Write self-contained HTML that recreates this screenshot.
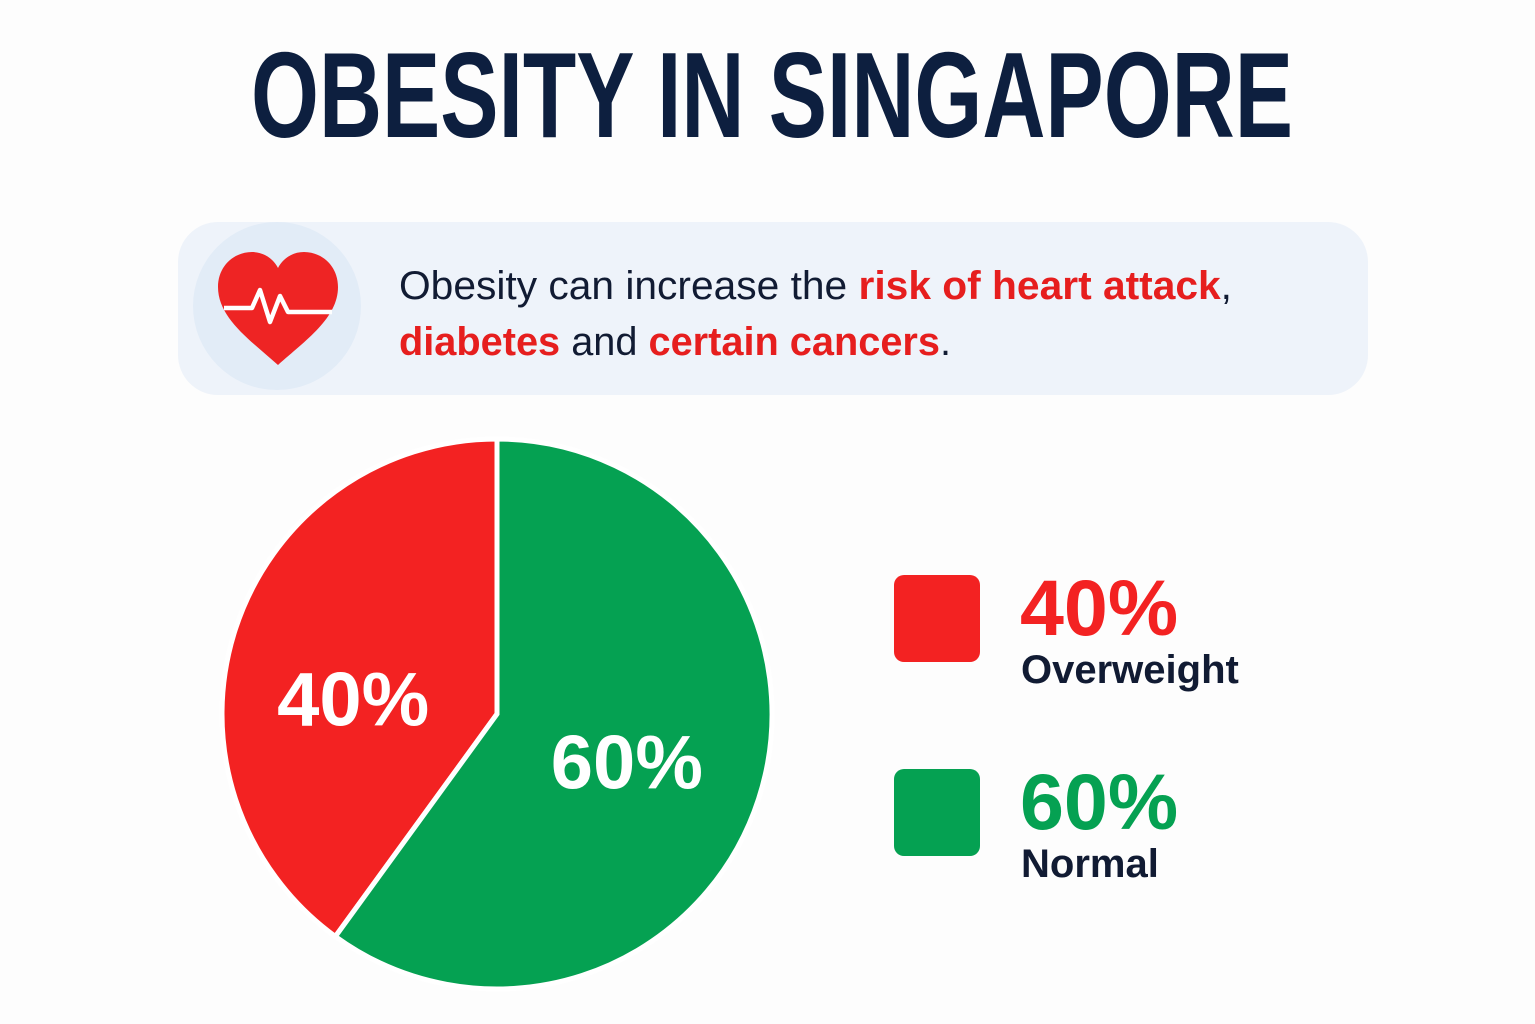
<!DOCTYPE html>
<html><head><meta charset="utf-8"><style>
html,body{margin:0;padding:0;background:#fdfdfd;}
svg{display:block;font-family:"Liberation Sans",sans-serif;}
</style></head><body>
<svg id="chart" width="1535" height="1024" viewBox="0 0 1535 1024">
<rect width="1535" height="1024" fill="#fdfdfd"/>
<text x="251" y="137" font-size="122" font-weight="bold" fill="#0d1f3f" textLength="1042" lengthAdjust="spacingAndGlyphs">OBESITY IN SINGAPORE</text>
<rect x="178" y="222" width="1190" height="173" rx="40" fill="#eef3fa"/>
<circle cx="277" cy="306" r="84" fill="#e2ecf7"/>
<g>
<path d="M278 365 C250 340 218 318 218 287 C218 266 234 252 252 252 C265 252 274 260 278 268 C282 260 291 252 304 252 C322 252 338 266 338 287 C338 318 306 340 278 365 Z" fill="#ee2424"/>
<polyline points="224,308 252,308 260,290 270,322 280,296 288,312 332,312" fill="none" stroke="#fff" stroke-width="4.5" stroke-linejoin="round"/>
</g>
<text x="399" y="299" font-size="40" fill="#111b33" textLength="833" lengthAdjust="spacingAndGlyphs">Obesity can increase the <tspan fill="#e61e1e" font-weight="bold">risk of heart attack</tspan>,</text>
<text x="399" y="355" font-size="40" fill="#111b33" textLength="552" lengthAdjust="spacingAndGlyphs"><tspan fill="#e61e1e" font-weight="bold">diabetes</tspan> and <tspan fill="#e61e1e" font-weight="bold">certain cancers</tspan>.</text>
<g id="pie"></g>
<g id="legend"></g>
</svg>
<script>
const categories = ["Overweight", "Normal"];
const values = [40, 60];
const colors = ["#f32222", "#05a152"];
const labelText = ["40%", "60%"];
const NS = "http://www.w3.org/2000/svg";
const cx = 497, cy = 714, r = 275;
const labelNudgeX = [0, -14];
const labelNudgeY = [30, 0];
const total = values.reduce((a,b)=>a+b,0);
function pt(frac, rad){ const a = frac*2*Math.PI; return [cx - rad*Math.sin(a), cy - rad*Math.cos(a)]; }
const pie = document.getElementById('pie');
let acc = 0;
values.forEach((v,i)=>{
  const f0 = acc/total, f1 = (acc+v)/total; acc += v;
  const p0 = pt(f0,r), p1 = pt(f1,r);
  const large = (f1-f0) > 0.5 ? 1 : 0;
  const path = document.createElementNS(NS,'path');
  path.setAttribute('d', `M${cx},${cy} L${p0[0]},${p0[1]} A${r},${r} 0 ${large} 0 ${p1[0]},${p1[1]} Z`);
  path.setAttribute('fill', colors[i]);
  path.setAttribute('stroke', '#fff');
  path.setAttribute('stroke-width', '5');
  
  
  pie.appendChild(path);
  const mid = pt((f0+f1)/2, r*0.55);
  const t = document.createElementNS(NS,'text');
  t.setAttribute('x', mid[0] + labelNudgeX[i]); t.setAttribute('y', mid[1]+28+labelNudgeY[i]);
  t.setAttribute('text-anchor','middle');
  t.setAttribute('font-size','76'); t.setAttribute('font-weight','bold'); t.setAttribute('fill','#fff');
  t.textContent = labelText[i];
  
  
  pie.appendChild(t);
});
const legend = document.getElementById('legend');
categories.forEach((c,i)=>{
  const y0 = 575 + i*194;
  const sq = document.createElementNS(NS,'rect');
  sq.setAttribute('x',894); sq.setAttribute('y',y0); sq.setAttribute('width',86); sq.setAttribute('height',87); sq.setAttribute('rx',10);
  sq.setAttribute('fill',colors[i]);
  
  
  legend.appendChild(sq);
  const pct = document.createElementNS(NS,'text');
  pct.setAttribute('x',1020); pct.setAttribute('y',y0+60);
  pct.setAttribute('font-size','79'); pct.setAttribute('font-weight','bold'); pct.setAttribute('fill',colors[i]);
  pct.textContent = labelText[i];
  
  
  legend.appendChild(pct);
  const nm = document.createElementNS(NS,'text');
  nm.setAttribute('x',1021); nm.setAttribute('y',y0+108);
  nm.setAttribute('font-size','40'); nm.setAttribute('font-weight','bold'); nm.setAttribute('fill','#111b33');
  nm.textContent = c;
  
  
  legend.appendChild(nm);
});
</script>
</body></html>
